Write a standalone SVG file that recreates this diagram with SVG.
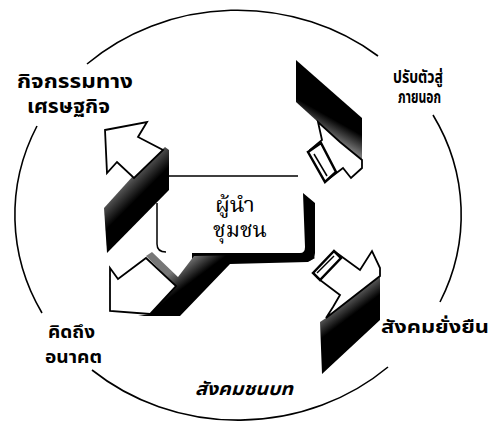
<svg xmlns="http://www.w3.org/2000/svg" width="493" height="426" viewBox="0 0 493 426">
<style>
.ring{fill:none;stroke:#000;stroke-width:1.6}
.face{fill:#fff;stroke:#000;stroke-width:1.8;stroke-linejoin:miter}
.side{fill:#000}
.tail{fill:#fff;stroke:#000;stroke-width:2.5}
.slit{stroke:#000;stroke-width:1.5}
.lbl{font-family:"Liberation Sans","Noto Sans Thai",sans-serif;font-weight:bold;fill:#000}
.ctr{font-family:"Liberation Serif","Noto Serif Thai","Noto Sans Thai",serif;font-size:21px;fill:#000}
</style>
<defs>
<linearGradient id="gTL" gradientUnits="userSpaceOnUse" x1="108" y1="192" x2="126" y2="210"><stop offset="0" stop-color="#777"/><stop offset="1" stop-color="#000"/></linearGradient>
<linearGradient id="gTR" gradientUnits="userSpaceOnUse" x1="333" y1="140" x2="342" y2="124"><stop offset="0" stop-color="#777"/><stop offset="1" stop-color="#000"/></linearGradient>
<linearGradient id="gBR" gradientUnits="userSpaceOnUse" x1="350" y1="292" x2="362" y2="308"><stop offset="0" stop-color="#777"/><stop offset="1" stop-color="#000"/></linearGradient>
<linearGradient id="gBL" gradientUnits="userSpaceOnUse" x1="182" y1="264" x2="194" y2="280"><stop offset="0" stop-color="#777"/><stop offset="1" stop-color="#000"/></linearGradient>
</defs>
<rect width="493" height="426" fill="#fff"/>
<g id="ring">
<path class="ring" d="M87,64 A223,205 0 0 1 378,56"/>
<path class="ring" d="M433,115 A223,205 0 0 1 440,302"/>
<path class="ring" d="M388,367 A223,205 0 0 1 92,370"/>
<path class="ring" d="M42,313 A223,205 0 0 1 37,126"/>
</g>
<g id="center">
<path class="side" d="M303,193 L315,203 L315,253 Q315,261 306,261 L192,261 L192,253 L300,253 Q305,253 305,247 Z"/>
<path fill="none" stroke="#000" stroke-width="1.5" d="M169,176 L298,176 M157,203 L157,244 Q157,252 166,252"/>
<text class="ctr" x="215" y="212" textLength="40" lengthAdjust="spacingAndGlyphs">ผู้นำ</text>
<text class="ctr" x="213" y="237" textLength="54" lengthAdjust="spacingAndGlyphs">ชุมชน</text>
</g>
<g id="connectors">
<g id="arrow-economy">
<polygon class="side" style="fill:url(#gTL)" points="133,176 165,147 169,150 169,190 107,253 104,208"/>
<polygon class="face" points="105,130 147,122 138,137 163,150 134,178 117,162 107,173"/>
</g>
<g id="arrow-adapt">
<polygon class="side" style="fill:url(#gTR)" points="296,60 362,118 362,162 340,142 318,122 296,102"/>
<polygon class="face" points="318,122 322,140 310,150 326,181 343,168 351,178 362,168 362,160 340,142"/>
<polygon class="tail" points="308,152 321,143 336,172 325,182"/>
<line class="slit" x1="314" y1="154" x2="327" y2="176"/>
</g>
<g id="arrow-future">
<polygon class="side" style="fill:url(#gBL)" points="146,256 152,252 178,277 194,256 310,254 315,258 308,262 230,264 180,316 138,316 150,314 176,286"/>
<polygon class="face" points="110,268 118,279 146,258 176,286 150,314 110,311"/>
</g>
<g id="arrow-sustain">
<polygon class="side" style="fill:url(#gBR)" points="380,272 380,320 322,374 320,322 326,318"/>
<polygon class="face" points="334,251 360,270 372,251 380,268 380,276 326,318 333,307 340,295 320,280"/>
<polygon class="tail" points="313,273 334,251 341,258 320,280"/>
<line class="slit" x1="317" y1="273" x2="334" y2="256"/>
</g>
</g>
<g id="label-economy">
<text class="lbl" x="17" y="88" font-size="19" textLength="116" lengthAdjust="spacingAndGlyphs">กิจกรรมทาง</text>
<text class="lbl" x="27" y="113" font-size="19" textLength="83" lengthAdjust="spacingAndGlyphs">เศรษฐกิจ</text>
</g>
<g id="label-adapt">
<text class="lbl" x="393" y="83" font-size="17.5" textLength="50" lengthAdjust="spacingAndGlyphs">ปรับตัวสู่</text>
<text class="lbl" x="398" y="103" font-size="17.5" textLength="43" lengthAdjust="spacingAndGlyphs">ภายนอก</text>
</g>
<g id="label-future">
<text class="lbl" x="48" y="338" font-size="18" textLength="47" lengthAdjust="spacingAndGlyphs">คิดถึง</text>
<text class="lbl" x="45" y="363" font-size="18" textLength="57" lengthAdjust="spacingAndGlyphs">อนาคต</text>
</g>
<g id="label-sustain">
<text class="lbl" x="381" y="333" font-size="18" textLength="108" lengthAdjust="spacingAndGlyphs">สังคมยั่งยืน</text>
</g>
<g id="label-rural">
<text class="lbl" x="195" y="395" font-size="18" font-style="italic" textLength="98" lengthAdjust="spacingAndGlyphs">สังคมชนบท</text>
</g>
</svg>
